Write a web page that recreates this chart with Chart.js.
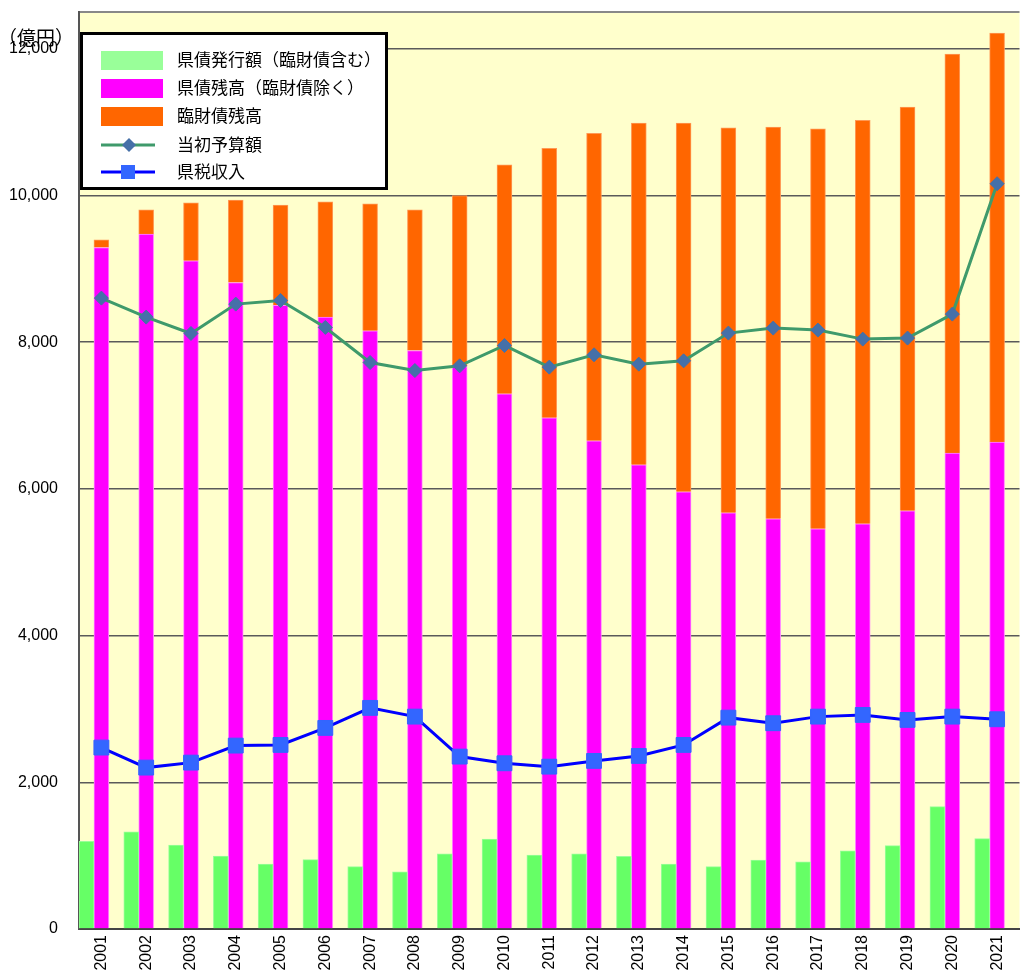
<!DOCTYPE html>
<html lang="ja">
<head>
<meta charset="utf-8">
<title>県債残高の推移</title>
<script src="https://cdn.jsdelivr.net/npm/chart.js@4.4.1/dist/chart.umd.min.js"></script>
<style>
  html, body { margin: 0; padding: 0; background: #fff; overflow: hidden; }
  #caja { position: relative; width: 1031px; height: 976px; }
</style>
</head>
<body>
<div id="caja"><canvas id="grafico"></canvas></div>
<script>
// 年度
const anios = ['2001', '2002', '2003', '2004', '2005', '2006', '2007', '2008', '2009', '2010', '2011',
               '2012', '2013', '2014', '2015', '2016', '2017', '2018', '2019', '2020', '2021'];

// 億円
const hakko = [1195, 1323, 1145, 995, 886, 945, 850, 781, 1023, 1227, 1009,
               1023, 991, 886, 850, 941, 914, 1064, 1136, 1668, 1232];
const zandaka = [9290, 9473, 9109, 8813, 8500, 8341, 8154, 7886, 7668, 7295, 6968,
                 6654, 6327, 5959, 5673, 5591, 5455, 5523, 5700, 6487, 6637];
const rinzai = [105, 331, 791, 1123, 1368, 1572, 1732, 1918, 2331, 3123, 3672,
                4191, 4659, 5027, 5249, 5341, 5454, 5499, 5504, 5440, 5577];
const yosan = [8600, 8341, 8118, 8518, 8568, 8200, 7722, 7613, 7677, 7954, 7659,
               7827, 7700, 7745, 8123, 8191, 8164, 8041, 8055, 8382, 10159];
const kenzei = [2473, 2200, 2268, 2500, 2509, 2741, 3014, 2895, 2350, 2259, 2213,
                2291, 2359, 2509, 2881, 2805, 2895, 2918, 2850, 2895, 2859];

const ejeY = [0, 2000, 4000, 6000, 8000, 10000, 12000];

const fuenteJP = "'Noto Sans CJK JP', sans-serif";

Chart.defaults.font.family = "'Liberation Sans', Arial, sans-serif";
Chart.defaults.font.size = 16;
Chart.defaults.color = '#000';

// 背景・単位
const fondo = {
  id: 'fondo',
  beforeDraw(chart) {
    const { ctx, chartArea: a } = chart;
    ctx.save();
    ctx.fillStyle = '#ffffcc';
    ctx.fillRect(a.left, a.top, a.right - a.left, a.bottom - a.top);
    ctx.strokeStyle = '#888';
    ctx.lineWidth = 2;
    ctx.beginPath();
    ctx.moveTo(a.left, a.top);
    ctx.lineTo(a.right, a.top);
    ctx.stroke();
    ctx.restore();
  },
  afterDraw(chart) {
    const ctx = chart.ctx;
    ctx.save();
    ctx.font = '19px ' + fuenteJP;
    ctx.fillStyle = '#000';
    ctx.textBaseline = 'middle';
    ctx.fillText('（億円）', -2, 38);
    ctx.restore();
  }
};

// 凡例
const leyenda = {
  id: 'leyenda',
  afterDraw(chart) {
    const ctx = chart.ctx;
    const ds = chart.data.datasets;
    ctx.save();
    ctx.fillStyle = '#fff';
    ctx.fillRect(80, 32, 308, 158);
    ctx.lineWidth = 3;
    ctx.strokeStyle = '#000';
    ctx.strokeRect(81.5, 33.5, 305, 155);

    const items = [
      { d: ds[2], y: 60 },
      { d: ds[3], y: 88 },
      { d: ds[4], y: 116 },
      { d: ds[0], y: 145 },
      { d: ds[1], y: 172 }
    ];
    items.forEach(it => {
      const d = it.d;
      if (d.type === 'bar') {
        ctx.fillStyle = d.legendColor;
        ctx.fillRect(101, it.y - 9, 62, 19);
      } else {
        ctx.strokeStyle = d.borderColor;
        ctx.lineWidth = 3;
        ctx.beginPath();
        ctx.moveTo(101, it.y);
        ctx.lineTo(155, it.y);
        ctx.stroke();
        ctx.fillStyle = d.pointBackgroundColor;
        ctx.beginPath();
        if (d.pointStyle === 'rectRot') {
          ctx.moveTo(129, it.y - 7);
          ctx.lineTo(136, it.y);
          ctx.lineTo(129, it.y + 7);
          ctx.lineTo(122, it.y);
        } else {
          ctx.rect(121, it.y - 7, 14, 14);
        }
        ctx.fill();
      }
      ctx.fillStyle = '#000';
      ctx.font = '17px ' + fuenteJP;
      ctx.textBaseline = 'middle';
      ctx.fillText(d.label, 177, it.y);
    });
    ctx.restore();
  }
};

const ctx = document.getElementById('grafico').getContext('2d');
new Chart(ctx, {
  data: {
    labels: anios,
    datasets: [
      {
        type: 'line',
        label: '当初予算額',
        data: yosan,
        stack: 'l1',
        order: 0,
        borderColor: '#3f9a6b',
        borderWidth: 3,
        pointStyle: 'rectRot',
        pointRadius: 7,
        pointBackgroundColor: '#4670a8',
        pointBorderColor: '#4670a8',
        pointBorderWidth: 1,
        tension: 0
      },
      {
        type: 'line',
        label: '県税収入',
        data: kenzei,
        stack: 'l2',
        order: 0,
        borderColor: '#0000ff',
        borderWidth: 3,
        pointStyle: 'rect',
        pointRadius: 10.5,
        pointBackgroundColor: '#3366ff',
        pointBorderColor: '#3366ff',
        pointBorderWidth: 1,
        tension: 0
      },
      {
        type: 'bar',
        label: '県債発行額（臨財債含む）',
        data: hakko,
        stack: 'a',
        order: 1,
        backgroundColor: '#66ff66',
        borderColor: '#99ff99',
        legendColor: '#99ff99',
        borderWidth: 1
      },
      {
        type: 'bar',
        label: '県債残高（臨財債除く）',
        data: zandaka,
        stack: 'b',
        order: 1,
        backgroundColor: '#ff00ff',
        borderColor: '#ff88ff',
        legendColor: '#ff00ff',
        borderWidth: 1
      },
      {
        type: 'bar',
        label: '臨財債残高',
        data: rinzai,
        stack: 'b',
        order: 1,
        backgroundColor: '#ff6600',
        borderColor: '#ff9955',
        legendColor: '#ff6600',
        borderWidth: 1
      },
      {
        // 右側の空き
        type: 'bar',
        label: 'hueco',
        data: [],
        stack: 'c',
        order: 1
      }
    ]
  },
  options: {
    responsive: true,
    maintainAspectRatio: false,
    animation: false,
    devicePixelRatio: 1,
    layout: { padding: { top: 12, right: 0, left: 0, bottom: 0 } },
    datasets: {
      bar: { barPercentage: 1, categoryPercentage: 1 }
    },
    plugins: {
      legend: { display: false },
      tooltip: { enabled: false }
    },
    scales: {
      x: {
        stacked: true,
        grid: { display: false, drawTicks: false },
        border: { color: '#444', width: 2 },
        ticks: { minRotation: 90, maxRotation: 90, autoSkip: false, padding: 6 },
        afterFit: s => { s.height = 47; s.paddingLeft = 0; s.paddingRight = 0; s.paddingTop = 0; s.paddingBottom = 0; }
      },
      y: {
        stacked: true,
        min: 0,
        max: 12500,
        grid: { color: '#5a5a5a', lineWidth: 1.5, drawTicks: false },
        border: { color: '#555', width: 2 },
        ticks: {
          padding: 21,
          callback: v => v.toLocaleString('en-US')
        },
        afterBuildTicks: s => { s.ticks = ejeY.map(v => ({ value: v })); },
        afterFit: s => { s.width = 79; s.paddingTop = 0; s.paddingBottom = 0; }
      }
    }
  },
  plugins: [fondo, leyenda]
});
</script>
</body>
</html>
